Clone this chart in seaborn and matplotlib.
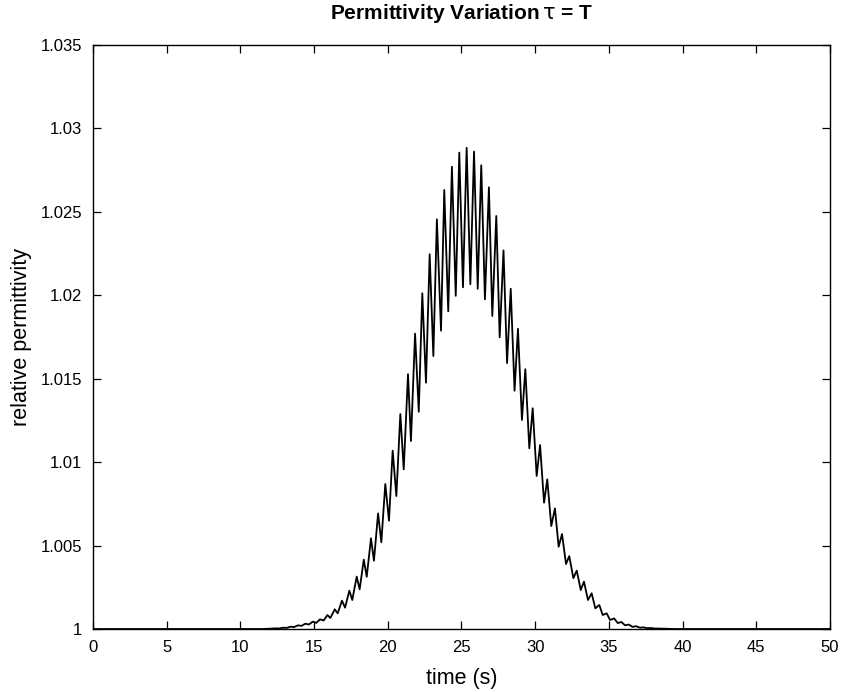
import numpy as np
import pandas as pd
import matplotlib
matplotlib.use("Agg")
import matplotlib.pyplot as plt
import seaborn as sns

# ---------------------------------------------------------
# Values (offset above 1, in 1e-3)
# ---------------------------------------------------------
flat_t = [0.0, 5.0, 11.5, 39.5, 45.0, 50.0]
flat_off = [0.0, 0.0, 0.0, 0.0, 0.0, 0.0]

peak_t = [12.4, 12.9, 13.4, 13.9, 14.4, 14.9, 15.4, 15.9, 16.4, 16.89, 17.39,
          17.89, 18.37, 18.86, 19.34, 19.83, 20.33, 20.85, 21.37, 21.85, 22.34,
          22.84, 23.33, 23.83, 24.35, 24.85, 25.35, 25.85, 26.34, 26.86, 27.36,
          27.85, 28.34, 28.83, 29.33, 29.83, 30.33, 30.82, 31.34, 31.82, 32.31,
          32.82, 33.31, 33.83, 34.35, 34.85, 35.35, 35.85, 36.35, 36.85, 37.35,
          37.85, 38.35]
peak_off = [0.04, 0.08, 0.14, 0.22, 0.32, 0.44, 0.58, 0.84, 1.18, 1.70, 2.30,
            3.14, 4.16, 5.44, 6.93, 8.69, 10.69, 12.88, 15.27, 17.70, 20.12,
            22.46, 24.55, 26.31, 27.70, 28.55, 28.84, 28.61, 27.79, 26.47, 24.75,
            22.69, 20.39, 17.99, 15.57, 13.23, 11.03, 8.97, 7.23, 5.69, 4.37,
            3.50, 2.84, 2.14, 1.44, 0.94, 0.64, 0.42, 0.27, 0.17, 0.10,
            0.06, 0.03]

trough_t = [12.65, 13.15, 13.65, 14.15, 14.65, 15.15, 15.65, 16.1, 16.6, 17.1,
            17.59, 18.09, 18.57, 19.06, 19.56, 20.08, 20.58, 21.08, 21.57, 22.1,
            22.59, 23.09, 23.61, 24.1, 24.61, 25.1, 25.6, 26.1, 26.59, 27.09,
            27.59, 28.09, 28.6, 29.1, 29.6, 30.1, 30.6, 31.09, 31.59, 32.09,
            32.59, 33.09, 33.58, 34.08, 34.58, 35.08, 35.6, 36.1, 36.6, 37.1,
            37.6, 38.1]
trough_off = [0.035, 0.07, 0.12, 0.19, 0.27, 0.37, 0.51, 0.66, 0.94, 1.28,
              1.74, 2.38, 3.13, 4.09, 5.20, 6.49, 7.97, 9.57, 11.27, 13.02,
              14.76, 16.36, 17.88, 19.04, 19.97, 20.48, 20.66, 20.39, 19.76, 18.76,
              17.48, 15.94, 14.28, 12.53, 10.83, 9.17, 7.57, 6.17, 4.93, 3.90,
              3.05, 2.34, 1.74, 1.24, 0.84, 0.54, 0.36, 0.22, 0.13, 0.08,
              0.05, 0.03]

x_ticks = [0, 5, 10, 15, 20, 25, 30, 35, 40, 45, 50]
y_ticks = [1.0, 1.005, 1.01, 1.015, 1.02, 1.025, 1.03, 1.035]
y_tick_labels = ["1", "1.005", "1.01", "1.015", "1.02", "1.025", "1.03", "1.035"]

# build one sorted table from the read values
df = pd.DataFrame({
    "time": flat_t + peak_t + trough_t,
    "off": flat_off + peak_off + trough_off,
}).sort_values("time")
df["permittivity"] = 1 + df["off"] / 1000.0

sns.set_style("ticks")
plt.rcParams["font.family"] = ["Liberation Sans", "DejaVu Sans"]
plt.rcParams["text.color"] = "black"
plt.rcParams["axes.labelcolor"] = "black"

fig = plt.figure(figsize=(8.41, 6.92), dpi=100)
ax = fig.add_axes([0.1106, 0.091, 0.8763, 0.844])

sns.lineplot(data=df, x="time", y="permittivity", estimator=None,
             sort=False, color="black", linewidth=1.3, ax=ax)
for ln in ax.lines:
    ln.set_solid_joinstyle("round")

ax.set_xlim(0, 50)
ax.set_ylim(1.0, 1.035)
ax.set_xticks(x_ticks)
ax.set_yticks(y_ticks)
ax.set_yticklabels(y_tick_labels)
ax.tick_params(direction="in", length=6, width=0.9, top=True, right=True,
               labelsize=12, colors="black", pad=8)
for s in ax.spines.values():
    s.set_linewidth(1.0)
    s.set_color("black")

ax.set_xlabel("time (s)", fontsize=15.5, labelpad=9)
ax.set_ylabel("relative permittivity", fontsize=15.5, labelpad=6)
ax.set_title(r"Permittivity Variation$\,\mathrm{\tau}$ = T", fontsize=15,
             fontweight="bold", pad=19)

fig.savefig("out.png", dpi=100)
